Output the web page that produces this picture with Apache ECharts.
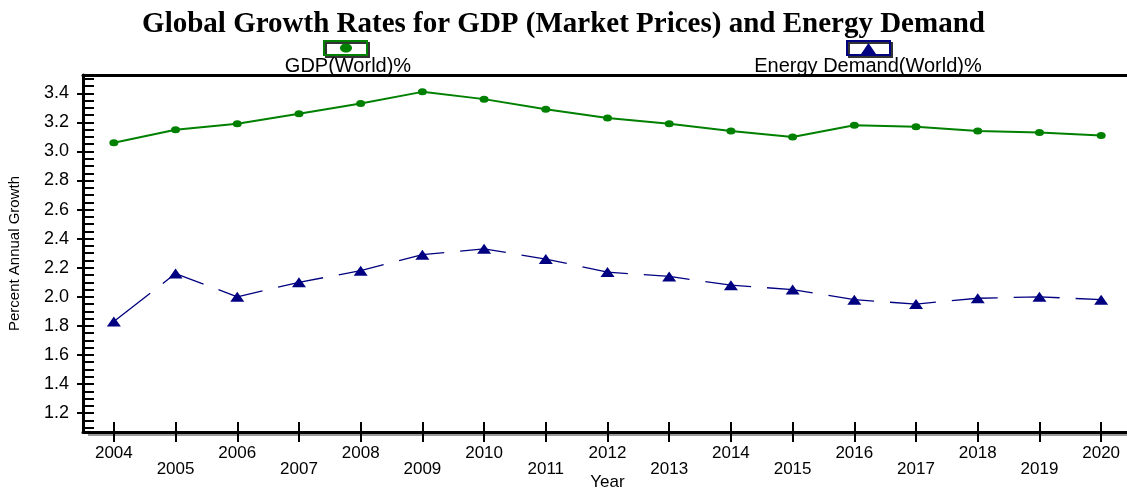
<!DOCTYPE html>
<html>
<head>
<meta charset="utf-8">
<script src="https://cdn.jsdelivr.net/npm/echarts@6/dist/echarts.min.js"></script>
<style>
  html, body { margin: 0; padding: 0; background: #fff; }
  #chart { width: 1127px; height: 489px; }
</style>
</head>
<body>
<div id="chart"></div>
<script>
const years = ['2004', '2005', '2006', '2007', '2008', '2009', '2010', '2011', '2012',
  '2013', '2014', '2015', '2016', '2017', '2018', '2019', '2020'];
const gdpWorld = [3.06, 3.15, 3.19, 3.26, 3.33, 3.41, 3.36, 3.29, 3.23,
  3.19, 3.14, 3.10, 3.18, 3.17, 3.14, 3.13, 3.11];
const energyDemand = [1.83, 2.16, 2.00, 2.10, 2.18, 2.29, 2.33, 2.26, 2.17,
  2.14, 2.08, 2.05, 1.98, 1.95, 1.99, 2.00, 1.98];
const yTickLabels = ['1.2', '1.4', '1.6', '1.8', '2.0', '2.2', '2.4', '2.6', '2.8', '3.0', '3.2', '3.4'];

const yMajor = yTickLabels.map(Number);
// small inner ticks every 0.05
const yMinor = [];
for (let v = 1.1; v <= 3.5001; v += 0.05) yMinor.push(Math.round(v * 100) / 100);

const font = 'Arial, "Liberation Sans", sans-serif';
const yMin = 1.07, yMax = 3.526;

const chart = echarts.init(document.getElementById('chart'));
chart.setOption({
  animation: false,
  title: {
    text: 'Global Growth Rates for GDP (Market Prices) and Energy Demand',
    left: 'center',
    top: 10,
    padding: [0, 0, 0, 31],
    textStyle: { fontFamily: '"Liberation Serif", "Times New Roman", serif', fontWeight: 'bold', fontSize: 29, color: '#000' }
  },
  grid: {
    left: 83, right: -5, top: 75, bottom: 57,
    outerBoundsMode: 'none', containLabel: false,
    show: true, borderWidth: 0, backgroundColor: '#fff',
    shadowColor: '#999', shadowOffsetX: 5, shadowOffsetY: 4, shadowBlur: 0
  },
  xAxis: [
    {
      type: 'category', data: years, boundaryGap: true, position: 'bottom',
      name: 'Year', nameLocation: 'middle', nameGap: 42, nameMoveOverlap: false,
      nameTextStyle: { fontFamily: font, fontSize: 17, color: '#000' },
      axisLine: { show: true, lineStyle: { color: '#000', width: 3 } },
      axisTick: { show: true, alignWithLabel: true, length: 10, lineStyle: { color: '#000', width: 2 } },
      axisLabel: {
        interval: 0, margin: 13, fontFamily: font, fontSize: 17, color: '#000', lineHeight: 16,
        formatter: (v, i) => (i % 2 ? '\n' + v : v)
      },
      splitLine: { show: false }
    },
    {
      type: 'category', data: years, boundaryGap: true, position: 'bottom',
      axisLine: { show: false },
      axisTick: { show: true, alignWithLabel: true, inside: true, length: 10, lineStyle: { color: '#000', width: 2 } },
      axisLabel: { show: false },
      splitLine: { show: false }
    },
    {
      type: 'category', data: years, boundaryGap: true, position: 'top',
      axisLine: { show: true, lineStyle: { color: '#000', width: 3 } },
      axisTick: { show: false },
      axisLabel: { show: false },
      splitLine: { show: false }
    }
  ],
  yAxis: [
    {
      type: 'value', min: yMin, max: yMax, position: 'left',
      name: 'Percent Annual Growth', nameLocation: 'middle', nameGap: 61, nameRotate: 90, nameMoveOverlap: false,
      nameTextStyle: { fontFamily: font, fontSize: 15, color: '#000' },
      axisLine: { show: true, lineStyle: { color: '#000', width: 3 } },
      axisTick: { show: true, length: 6, customValues: yMajor, lineStyle: { color: '#000', width: 2 } },
      axisLabel: { margin: 14, customValues: yMajor, fontFamily: font, fontSize: 18, color: '#000',
        formatter: v => v.toFixed(1) },
      splitLine: { show: false }
    },
    {
      type: 'value', min: yMin, max: yMax, position: 'left',
      axisLine: { show: false },
      axisTick: { show: true, inside: true, length: 11, customValues: yMinor, lineStyle: { color: '#000', width: 2 } },
      axisLabel: { show: false },
      splitLine: { show: false }
    }
  ],
  series: [
    {
      name: 'GDP(World)%', type: 'line', data: gdpWorld,
      symbol: 'circle', symbolSize: [9, 7],
      itemStyle: { color: '#008000' },
      lineStyle: { color: '#008000', width: 2 }
    },
    {
      name: 'Energy Demand(World)%', type: 'line', data: energyDemand,
      symbol: 'triangle', symbolSize: [14, 10],
      itemStyle: { color: '#000080' },
      lineStyle: { color: '#000080', width: 1.3, type: [46, 16] }
    }
  ],
  graphic: [
    {
      type: 'group', left: 323, top: 40,
      children: [
        { type: 'rect', shape: { x: 0, y: 0, width: 43, height: 14 },
          style: { fill: '#fff', stroke: '#008000', lineWidth: 2, shadowColor: '#333', shadowOffsetX: 2, shadowOffsetY: 2 } },
        { type: 'ellipse', shape: { cx: 22, cy: 7, rx: 6, ry: 4.5 }, style: { fill: '#008000' } }
      ]
    },
    { type: 'text', x: 348, y: 66, style: { text: 'GDP(World)%', align: 'center', verticalAlign: 'middle', font: '20px ' + font, fill: '#000' } },
    {
      type: 'group', left: 846, top: 40,
      children: [
        { type: 'rect', shape: { x: 0, y: 0, width: 43, height: 14 },
          style: { fill: '#fff', stroke: '#000080', lineWidth: 2, shadowColor: '#333', shadowOffsetX: 2, shadowOffsetY: 2 } },
        { type: 'polygon', shape: { points: [[21.5, 2], [29, 13], [14, 13]] }, style: { fill: '#000080' } }
      ]
    },
    { type: 'text', x: 868, y: 66, style: { text: 'Energy Demand(World)%', align: 'center', verticalAlign: 'middle', font: '20px ' + font, fill: '#000' } }
  ]
});
</script>
</body>
</html>
